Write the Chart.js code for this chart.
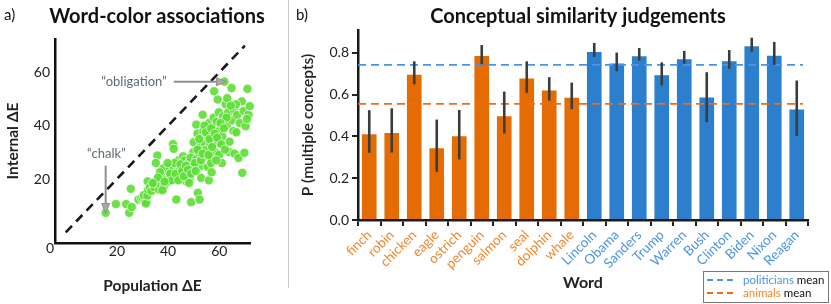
<!DOCTYPE html>
<html>
<head>
<meta charset="utf-8">
<script src="https://cdn.jsdelivr.net/npm/chart.js@4.4.0/dist/chart.umd.min.js"></script>
<style>
  body { margin: 0; background: #fff; }
  #wrap { position: relative; width: 831px; height: 304px; }
  #leftBox { position: absolute; left: 0; top: 0; width: 288px; height: 304px; }
  #sep { position: absolute; left: 288px; top: 0; width: 1px; height: 288px; background: #c8c8c8; }
  #rightBox { position: absolute; left: 290px; top: 0; width: 541px; height: 304px; }
</style>
</head>
<body>
<div id="wrap">
  <div id="leftBox"><canvas id="scatterChart"></canvas></div>
  <div id="sep"></div>
  <div id="rightBox"><canvas id="barChart"></canvas></div>
</div>
<script>
// ---- panel a) : [population ΔE, internal ΔE] per word ----
const wordColorDE = [
  [15.6,7.3],[19.6,10.6],[23.6,10.6],[24.8,7.3],[25.8,9.5],[25.4,16.3],[28.4,12.3],[29.5,12.8],[30.3,12.5],[31,11.6],[31.6,11.3],[31.3,10.8],[30.5,14],
  [31.9,13.8],[32.2,16],[32,19.1],[32.9,16.9],[33.5,15.5],[34.5,17],[35,19.1],[35.8,28.8],[35.2,26],[36.5,16],[37,18],[37.5,20.5],[38,22],[38.5,17.5],[39,21],[39.4,22.9],[38.2,24],[36.8,22.5],[40,19],[40.5,24.5],[37.8,15.8],
  [41.9,33.1],[42.2,31.3],[43.2,12.3],[41,21.5],[42,23.5],[42.8,20],[43.5,25],[44.5,23.3],[44,27],[45,21.5],[45.8,28.5],[46.5,27],[46,24],[47.1,19.1],[47.5,22.5],[48,26],[48.5,20.5],[49,11.3],[49.5,24.5],[49.8,30],[50,33.8],[48.8,28],
  [51,40.4],[51.5,37],[51.6,14.8],[52.3,12.3],[52.9,20.4],[51,27.5],[52,30],[52.5,32],[53,25],[53.5,44.1],[53.8,38],[54,34],[54.5,28.5],[55,31],[55.3,36],[55.5,24.5],[55.9,19.5],[56,41],[56.5,33],[57,22.5],[57,28],[57.5,38.5],[57.8,43],[58,52.9],[58,35],[58.5,30],[59,41.5],[59.4,49.8],[59.5,33.5],[60,29.1],[59.8,45],[60,38],[56.8,26],
  [61,26],[61.2,36],[61.5,43.5],[62,56.5],[62.5,48],[63.1,50.3],[63,40],[63.5,45],[63.9,30.1],[64,34],[64.8,54.1],[65,42],[65.5,38],[65.8,46],[66,29.5],[66.7,37.5],[67,44],[67.5,27.9],[68,41],[68.8,49.1],[69,22.3],[69.5,45.5],[69.8,29.8],[70.3,39.8],[71,53.8],[71.4,44.1],[71.9,47.3],[70.8,42.5],[66.5,48],[64.5,47.5],[62.8,43],
  [40.8,22],[41.5,19.5],[42.5,26],[43,22],[44,19.5],[44.8,25.5],[45.5,23],[46.2,21],[47,25],[47.8,23.5],[48.2,18.5],[49,22],[50.5,26],[50.8,23],[51.5,31],[52.2,35],[52.8,27],[53.5,29.5],[54.2,40],[54.8,37.5],[55.8,29],[56.2,35],[56.8,39],[57.2,32],[58.2,37],[58.8,27],[59.2,35.5],[60.5,41],[60.8,33],[61.8,39],[62.2,31],[36,20.5],[34,18.5],[39.8,26],[38.6,19]
];
const diagonal = [0, 70];
const scatterTicks = [20, 40, 60];
// annotated words: label, point, where the label sits
const callouts = [
  { text: '\u201Cobligation\u201D', point: [62, 56.5], from: [42.2, 56.5], label: [39.5, 56.5], dir: 'h' },
  { text: '\u201Cchalk\u201D', point: [15.6, 7.8], from: [15.6, 25], label: [15.9, 29.5], dir: 'v' }
];

// ---- panel b) ----
const words = ['finch','robin','chicken','eagle','ostrich','penguin','salmon','seal','dolphin','whale',
               'Lincoln','Obama','Sanders','Trump','Warren','Bush','Clinton','Biden','Nixon','Reagan'];
const isAnimal = [1,1,1,1,1,1,1,1,1,1, 0,0,0,0,0,0,0,0,0,0];
const pMultiple = [0.416,0.422,0.701,0.349,0.406,0.790,0.502,0.682,0.625,0.590,
                   0.810,0.754,0.789,0.698,0.775,0.591,0.765,0.837,0.792,0.534];
const ciLow  = [0.322,0.323,0.650,0.231,0.290,0.746,0.414,0.609,0.572,0.531,
                0.781,0.712,0.763,0.644,0.749,0.469,0.724,0.806,0.743,0.402];
const ciHigh = [0.526,0.535,0.760,0.481,0.527,0.838,0.615,0.760,0.684,0.658,
                0.848,0.802,0.824,0.755,0.810,0.708,0.814,0.873,0.853,0.668];
const politiciansMean = 0.743;
const animalsMean = 0.556;
const barTicks = [0, 0.2, 0.4, 0.6, 0.8];

const ORANGE_BAR = '#e56c05', BLUE_BAR = '#2b7fcd';
const ORANGE_TXT = '#f2852a', BLUE_TXT = '#4a95e3';
const ORANGE_LINE = '#f26b17', BLUE_LINE = '#4a94ea';

Chart.defaults.font.family = 'Lato, "Open Sans", sans-serif';
Chart.defaults.color = '#222';

function fixSize(w, h) {
  return function(scale) {
    if (w != null) scale.width = w;
    if (h != null) scale.height = h;
  };
}

// ---------- panel a ----------
const scatterExtras = {
  id: 'scatterExtras',
  afterDraw(chart) {
    const { ctx, scales: { x, y } } = chart;
    ctx.save();
    ctx.fillStyle = '#111';
    ctx.font = '15px Lato';
    ctx.textBaseline = 'middle';
    ctx.fillText('a)', 4, 15);
    ctx.font = 'bold 20px Lato';
    ctx.textAlign = 'center';
    ctx.fillText('Word-color associations', 157, 17);
    // corner zero
    ctx.font = '14px Lato';
    ctx.fillStyle = '#222';
    ctx.fillText('0', 50, 248);

    callouts.forEach(c => {
      const px = x.getPixelForValue(c.point[0]), py = y.getPixelForValue(c.point[1]);
      const fx = x.getPixelForValue(c.from[0]), fy = y.getPixelForValue(c.from[1]);
      ctx.strokeStyle = '#8f8f8f';
      ctx.fillStyle = '#a9a9a9';
      ctx.lineWidth = 2;
      ctx.beginPath();
      ctx.moveTo(fx, fy);
      ctx.lineTo(px, py);
      ctx.stroke();
      ctx.beginPath();
      if (c.dir === 'h') {
        ctx.moveTo(px + 2, py); ctx.lineTo(px - 8, py - 4); ctx.lineTo(px - 8, py + 4);
      } else {
        ctx.moveTo(px, py + 2); ctx.lineTo(px - 4, py - 8); ctx.lineTo(px + 4, py - 8);
      }
      ctx.closePath();
      ctx.fill();
      ctx.lineWidth = 1;
      ctx.stroke();
      ctx.fillStyle = '#5d6d74';
      ctx.font = '13px Lato';
      ctx.textAlign = c.dir === 'h' ? 'right' : 'center';
      ctx.fillText(c.text, x.getPixelForValue(c.label[0]), y.getPixelForValue(c.label[1]));
    });
    ctx.restore();
  }
};

new Chart(document.getElementById('scatterChart'), {
  type: 'scatter',
  data: {
    datasets: [
      {
        type: 'line',
        data: diagonal.map(v => ({ x: v, y: v })),
        borderColor: '#1a1a1a',
        borderWidth: 2.6,
        borderDash: [9, 6],
        pointRadius: 0,
        order: 0
      },
      {
        data: wordColorDE.map(p => ({ x: p[0], y: p[1] })),
        backgroundColor: 'rgba(92, 222, 52, 0.9)',
        borderColor: 'rgba(255,255,255,0.85)',
        borderWidth: 0.8,
        pointRadius: 4.6,
        clip: false,
        order: 1
      }
    ]
  },
  options: {
    responsive: true,
    maintainAspectRatio: false,
    animation: false,
    layout: { padding: { top: 39, right: 38, left: 0, bottom: 0 } },
    plugins: { legend: { display: false }, tooltip: { enabled: false } },
    scales: {
      x: {
        type: 'linear', min: -4.2, max: 72,
        afterFit: fixSize(null, 61),
        afterBuildTicks: s => { s.ticks = scatterTicks.map(v => ({ value: v })); },
        grid: { display: false, drawTicks: false },
        border: { color: '#111', width: 2.5 },
        ticks: { font: { size: 14 }, padding: 0 },
        title: { display: true, text: 'Population \u0394E', font: { size: 15.5, weight: 'bold' }, padding: { top: 0, bottom: 9 } }
      },
      y: {
        type: 'linear', min: -4, max: 72.5,
        afterFit: fixSize(55, null),
        afterBuildTicks: s => { s.ticks = scatterTicks.map(v => ({ value: v })); },
        grid: { display: false, drawTicks: false },
        border: { color: '#111', width: 2.5 },
        ticks: { font: { size: 14 }, padding: 5 },
        title: { display: true, text: 'Internal \u0394E', font: { size: 15.5, weight: 'bold' }, padding: { top: 4, bottom: 0 } }
      }
    }
  },
  plugins: [scatterExtras]
});

// ---------- panel b ----------
const barExtras = {
  id: 'barExtras',
  afterDatasetsDraw(chart) {
    const { ctx, chartArea, scales: { y } } = chart;
    ctx.save();
    // group means
    [[politiciansMean, BLUE_LINE], [animalsMean, ORANGE_LINE]].forEach(([m, col]) => {
      const py = y.getPixelForValue(m);
      ctx.strokeStyle = col;
      ctx.lineWidth = 1.8;
      ctx.setLineDash([8, 5]);
      ctx.beginPath();
      ctx.moveTo(chartArea.left, py);
      ctx.lineTo(chartArea.right - 5, py);
      ctx.stroke();
    });
    ctx.setLineDash([]);
    // confidence intervals
    const bars = chart.getDatasetMeta(0).data;
    ctx.strokeStyle = '#3c3c3c';
    ctx.lineWidth = 2.6;
    bars.forEach((bar, i) => {
      ctx.beginPath();
      ctx.moveTo(bar.x, y.getPixelForValue(ciLow[i]));
      ctx.lineTo(bar.x, y.getPixelForValue(ciHigh[i]));
      ctx.stroke();
    });
    ctx.restore();
  },
  afterDraw(chart) {
    const { ctx } = chart;
    ctx.save();
    ctx.fillStyle = '#111';
    ctx.textBaseline = 'middle';
    ctx.font = '15px Lato';
    ctx.fillText('b)', 6, 15);
    ctx.font = 'bold 20px Lato';
    ctx.textAlign = 'center';
    ctx.fillText('Conceptual similarity judgements', 288, 17);

    // legend
    const bx = 413, by = 271, bw = 125, bh = 31;
    ctx.strokeStyle = '#7a7a7a';
    ctx.lineWidth = 1;
    ctx.strokeRect(bx + 0.5, by + 0.5, bw, bh);
    const rows = [['politicians', BLUE_LINE, BLUE_TXT, by + 9], ['animals', ORANGE_LINE, ORANGE_TXT, by + 22]];
    ctx.textAlign = 'left';
    ctx.font = '11.5px Lato';
    rows.forEach(([name, lineCol, txtCol, ry]) => {
      ctx.strokeStyle = lineCol;
      ctx.lineWidth = 1.8;
      ctx.setLineDash([6, 4]);
      ctx.beginPath();
      ctx.moveTo(bx + 4, ry);
      ctx.lineTo(bx + 33, ry);
      ctx.stroke();
      ctx.setLineDash([]);
      ctx.fillStyle = txtCol;
      ctx.fillText(name, bx + 40, ry);
      const w = ctx.measureText(name + ' ').width;
      ctx.fillStyle = '#111';
      ctx.fillText('mean', bx + 40 + w, ry);
    });
    ctx.restore();
  }
};

new Chart(document.getElementById('barChart'), {
  type: 'bar',
  data: {
    labels: words,
    datasets: [{
      data: pMultiple,
      backgroundColor: isAnimal.map(a => a ? ORANGE_BAR : BLUE_BAR),
      borderColor: 'rgba(255,255,255,0.55)',
      borderWidth: 1,
      barPercentage: 0.74,
      categoryPercentage: 1
    }]
  },
  options: {
    responsive: true,
    maintainAspectRatio: false,
    animation: false,
    layout: { padding: { top: 30, right: 23, left: 0, bottom: 0 } },
    plugins: { legend: { display: false }, tooltip: { enabled: false } },
    scales: {
      x: {
        afterFit: fixSize(null, 84),
        grid: { display: true, drawOnChartArea: false, drawTicks: true, tickLength: 6, color: '#222', lineWidth: 2 },
        border: { color: '#1a1a1a', width: 2.5 },
        ticks: {
          autoSkip: false, minRotation: 45, maxRotation: 45, padding: 1,
          font: { size: 13.5 },
          color: c => isAnimal[c.index] ? ORANGE_TXT : BLUE_TXT
        },
        title: { display: true, text: 'Word', font: { size: 16, weight: 'bold' }, padding: { top: 0, bottom: 12 } }
      },
      y: {
        min: 0, max: 0.91,
        afterFit: fixSize(68, null),
        afterBuildTicks: s => { s.ticks = barTicks.map(v => ({ value: v })); },
        grid: { display: true, drawOnChartArea: false, drawTicks: true, tickLength: 6, color: '#222', lineWidth: 2 },
        border: { color: '#1a1a1a', width: 2.5 },
        ticks: { font: { size: 14 }, padding: 3, callback: v => v.toFixed(1) },
        title: { display: true, text: 'P (multiple concepts)', font: { size: 15.5, weight: '600' }, padding: { top: 9, bottom: 0 } }
      }
    }
  },
  plugins: [barExtras]
});
</script>
</body>
</html>
